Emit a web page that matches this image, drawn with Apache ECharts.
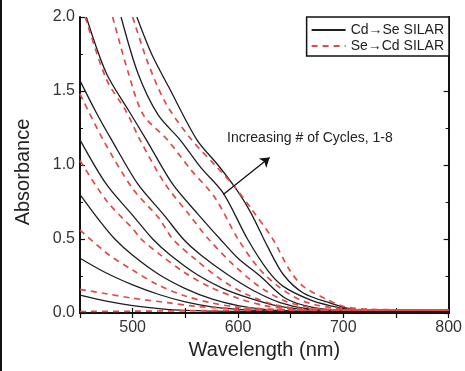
<!DOCTYPE html>
<html>
<head>
<meta charset="utf-8" />
<title>Absorbance vs wavelength</title>
<style type="text/css">
  html, body {margin: 0; padding: 0; background: #fff;}
  #main {width: 465px; height: 371px;}
</style>
<script type="text/javascript" src="https://cdn.jsdelivr.net/npm/echarts@6/dist/echarts.min.js"></script>
</head>
<body>
<div id="main"></div>
<script type="text/javascript">
// [wavelength nm, absorbance], cycles 1..8
var cdSeCurves = [
  [[450,0.12],[475,0.08],[500,0.05],[525,0.03],[550,0.018],[600,0.011],[700,0.008],[800,0.008]],
  [[450,0.37],[475,0.27],[500,0.19],[525,0.125],[550,0.075],[575,0.042],[600,0.025],[625,0.015],[650,0.011],[800,0.008]],
  [[450,0.80],[470,0.61],[483,0.50],[500,0.39],[525,0.26],[550,0.165],[575,0.095],[600,0.05],[625,0.024],[650,0.014],[700,0.01],[800,0.009]],
  [[450,1.17],[475,0.87],[500,0.66],[519,0.50],[536,0.39],[561,0.26],[586,0.165],[611,0.10],[636,0.05],[661,0.025],[700,0.012],[800,0.01]],
  [[450,1.57],[465,1.36],[480,1.17],[505,0.87],[530,0.66],[548,0.50],[565,0.39],[590,0.26],[615,0.15],[640,0.07],[665,0.03],[700,0.015],[800,0.011]],
  [[456,2.0],[475,1.62],[496,1.37],[513,1.17],[538,0.87],[563,0.66],[583,0.50],[600,0.37],[621,0.25],[645,0.10],[670,0.04],[700,0.018],[800,0.012]],
  [[489,2.0],[505,1.62],[524,1.34],[545,1.17],[565,0.98],[586,0.81],[609,0.50],[628,0.29],[643,0.18],[668,0.09],[687,0.05],[710,0.02],[800,0.013]],
  [[504,2.0],[518,1.75],[534,1.53],[561,1.17],[581,1.0],[599,0.83],[612,0.68],[628,0.45],[643,0.26],[662,0.135],[687,0.068],[710,0.025],[800,0.014]]
];
var seCdCurves = [
  [[450,0.01],[500,0.012],[550,0.015],[600,0.018],[700,0.02],[800,0.02]],
  [[450,0.16],[475,0.13],[500,0.10],[533,0.07],[560,0.045],[600,0.028],[650,0.022],[800,0.02]],
  [[450,0.56],[478,0.39],[500,0.29],[524,0.19],[550,0.115],[575,0.068],[600,0.04],[650,0.022],[800,0.02]],
  [[450,1.03],[475,0.76],[500,0.57],[508,0.50],[525,0.40],[550,0.27],[575,0.17],[600,0.10],[625,0.05],[650,0.03],[700,0.02],[800,0.02]],
  [[450,1.48],[472,1.17],[500,0.84],[525,0.64],[538,0.50],[560,0.36],[585,0.22],[610,0.12],[635,0.055],[660,0.03],[700,0.02],[800,0.02]],
  [[455,2.0],[475,1.58],[494,1.36],[507,1.17],[530,0.88],[553,0.67],[572,0.50],[595,0.33],[620,0.18],[645,0.08],[670,0.035],[700,0.022],[800,0.02]],
  [[481,2.0],[496,1.62],[510,1.34],[533,1.17],[555,0.97],[578,0.78],[600,0.50],[620,0.30],[640,0.17],[662,0.08],[690,0.035],[725,0.022],[800,0.02]],
  [[500,2.0],[515,1.68],[532,1.41],[556,1.17],[578,1.0],[596,0.86],[613,0.70],[633,0.50],[649,0.29],[662,0.18],[685,0.09],[700,0.045],[725,0.025],[800,0.02]]
];
var legendNames = ['Cd\u2192Se SILAR', 'Se\u2192Cd SILAR'];
var arrowFrom = [586, 0.80];
var arrowTo = [630, 1.05];
var noteText = 'Increasing # of Cycles, 1-8';

var font = 'Liberation Sans, Arial, sans-serif';
var axisColor = '#111';

var series = [];
cdSeCurves.forEach(function (pts, i) {
  var s = {
    name: legendNames[0],
    type: 'line',
    data: pts,
    symbol: 'none',
    smooth: 0.3,
    lineStyle: {color: '#1d1d1d', width: 1.3},
    itemStyle: {color: '#1d1d1d'},
    z: 2
  };
  if (i === 0) {
    s.markLine = {
      silent: true,
      symbol: ['none', 'arrow'],
      symbolSize: 9,
      label: {show: false},
      lineStyle: {color: '#111', width: 1.3, type: 'solid'},
      data: [[{coord: arrowFrom}, {coord: arrowTo}]]
    };
  }
  series.push(s);
});
seCdCurves.forEach(function (pts) {
  series.push({
    name: legendNames[1],
    type: 'line',
    data: pts,
    symbol: 'none',
    smooth: 0.3,
    lineStyle: {color: '#e04a4a', width: 1.7, type: [6, 5]},
    itemStyle: {color: '#e04a4a'},
    z: 3
  });
});

var chart = echarts.init(document.getElementById('main'));
chart.setOption({
  animation: false,
  backgroundColor: '#fff',
  grid: {left: 80, right: 16, top: 17, bottom: 58},
  legend: {
    data: legendNames,
    orient: 'vertical',
    right: 16,
    top: 17,
    itemWidth: 34,
    itemHeight: 14,
    itemGap: 2,
    padding: [6, 5, 3, 4],
    borderColor: '#111',
    borderWidth: 1.5,
    backgroundColor: '#fff',
    selectedMode: false,
    itemStyle: {color: 'rgba(0,0,0,0)', borderColor: 'rgba(0,0,0,0)', borderWidth: 0},
    textStyle: {fontFamily: font, fontSize: 14, color: '#222'}
  },
  xAxis: [{
    type: 'value', min: 450, max: 800, interval: 50,
    name: 'Wavelength (nm)', nameLocation: 'middle', nameGap: 25,
    nameTextStyle: {fontFamily: font, fontSize: 20, color: '#222'},
    axisLine: {lineStyle: {color: axisColor, width: 2}},
    axisTick: {inside: true, length: 5, lineStyle: {color: axisColor, width: 1.2}},
    axisLabel: {
      margin: 7, fontFamily: font, fontSize: 16, color: '#333',
      formatter: function (v) { return v % 100 === 0 ? String(v) : ''; }
    },
    splitLine: {show: false}
  }, {
    type: 'value', min: 450, max: 800, interval: 50, position: 'top',
    axisLine: {lineStyle: {color: axisColor, width: 2}},
    axisTick: {inside: true, length: 5, lineStyle: {color: axisColor, width: 1.2}},
    axisLabel: {show: false},
    splitLine: {show: false}
  }],
  yAxis: [{
    type: 'value', min: 0, max: 2, interval: 0.5,
    name: 'Absorbance', nameLocation: 'middle', nameGap: 47, nameRotate: 90,
    nameTextStyle: {fontFamily: font, fontSize: 20, color: '#222', padding: [0, 14, 0, 0]},
    axisLine: {lineStyle: {color: axisColor, width: 2}},
    axisTick: {inside: true, length: 5, lineStyle: {color: axisColor, width: 1.2}},
    minorTick: {show: true, splitNumber: 2, length: 3, lineStyle: {color: axisColor, width: 1}},
    axisLabel: {
      margin: 5, fontFamily: font, fontSize: 16, color: '#333',
      formatter: function (v) { return v.toFixed(1); }
    },
    splitLine: {show: false}
  }, {
    type: 'value', min: 0, max: 2, interval: 0.5, position: 'right',
    axisLine: {lineStyle: {color: axisColor, width: 2}},
    axisTick: {inside: true, length: 5, lineStyle: {color: axisColor, width: 1.2}},
    minorTick: {show: true, splitNumber: 2, length: 3, lineStyle: {color: axisColor, width: 1}},
    axisLabel: {show: false},
    splitLine: {show: false}
  }],
  graphic: [{
    type: 'rect', left: 0, top: 0,
    shape: {width: 2, height: 371},
    style: {fill: '#111'}
  }, {
    type: 'text', left: 227, top: 131,
    style: {text: noteText, font: '14px ' + font, fill: '#222'}
  }],
  series: series
});
</script>
</body>
</html>
